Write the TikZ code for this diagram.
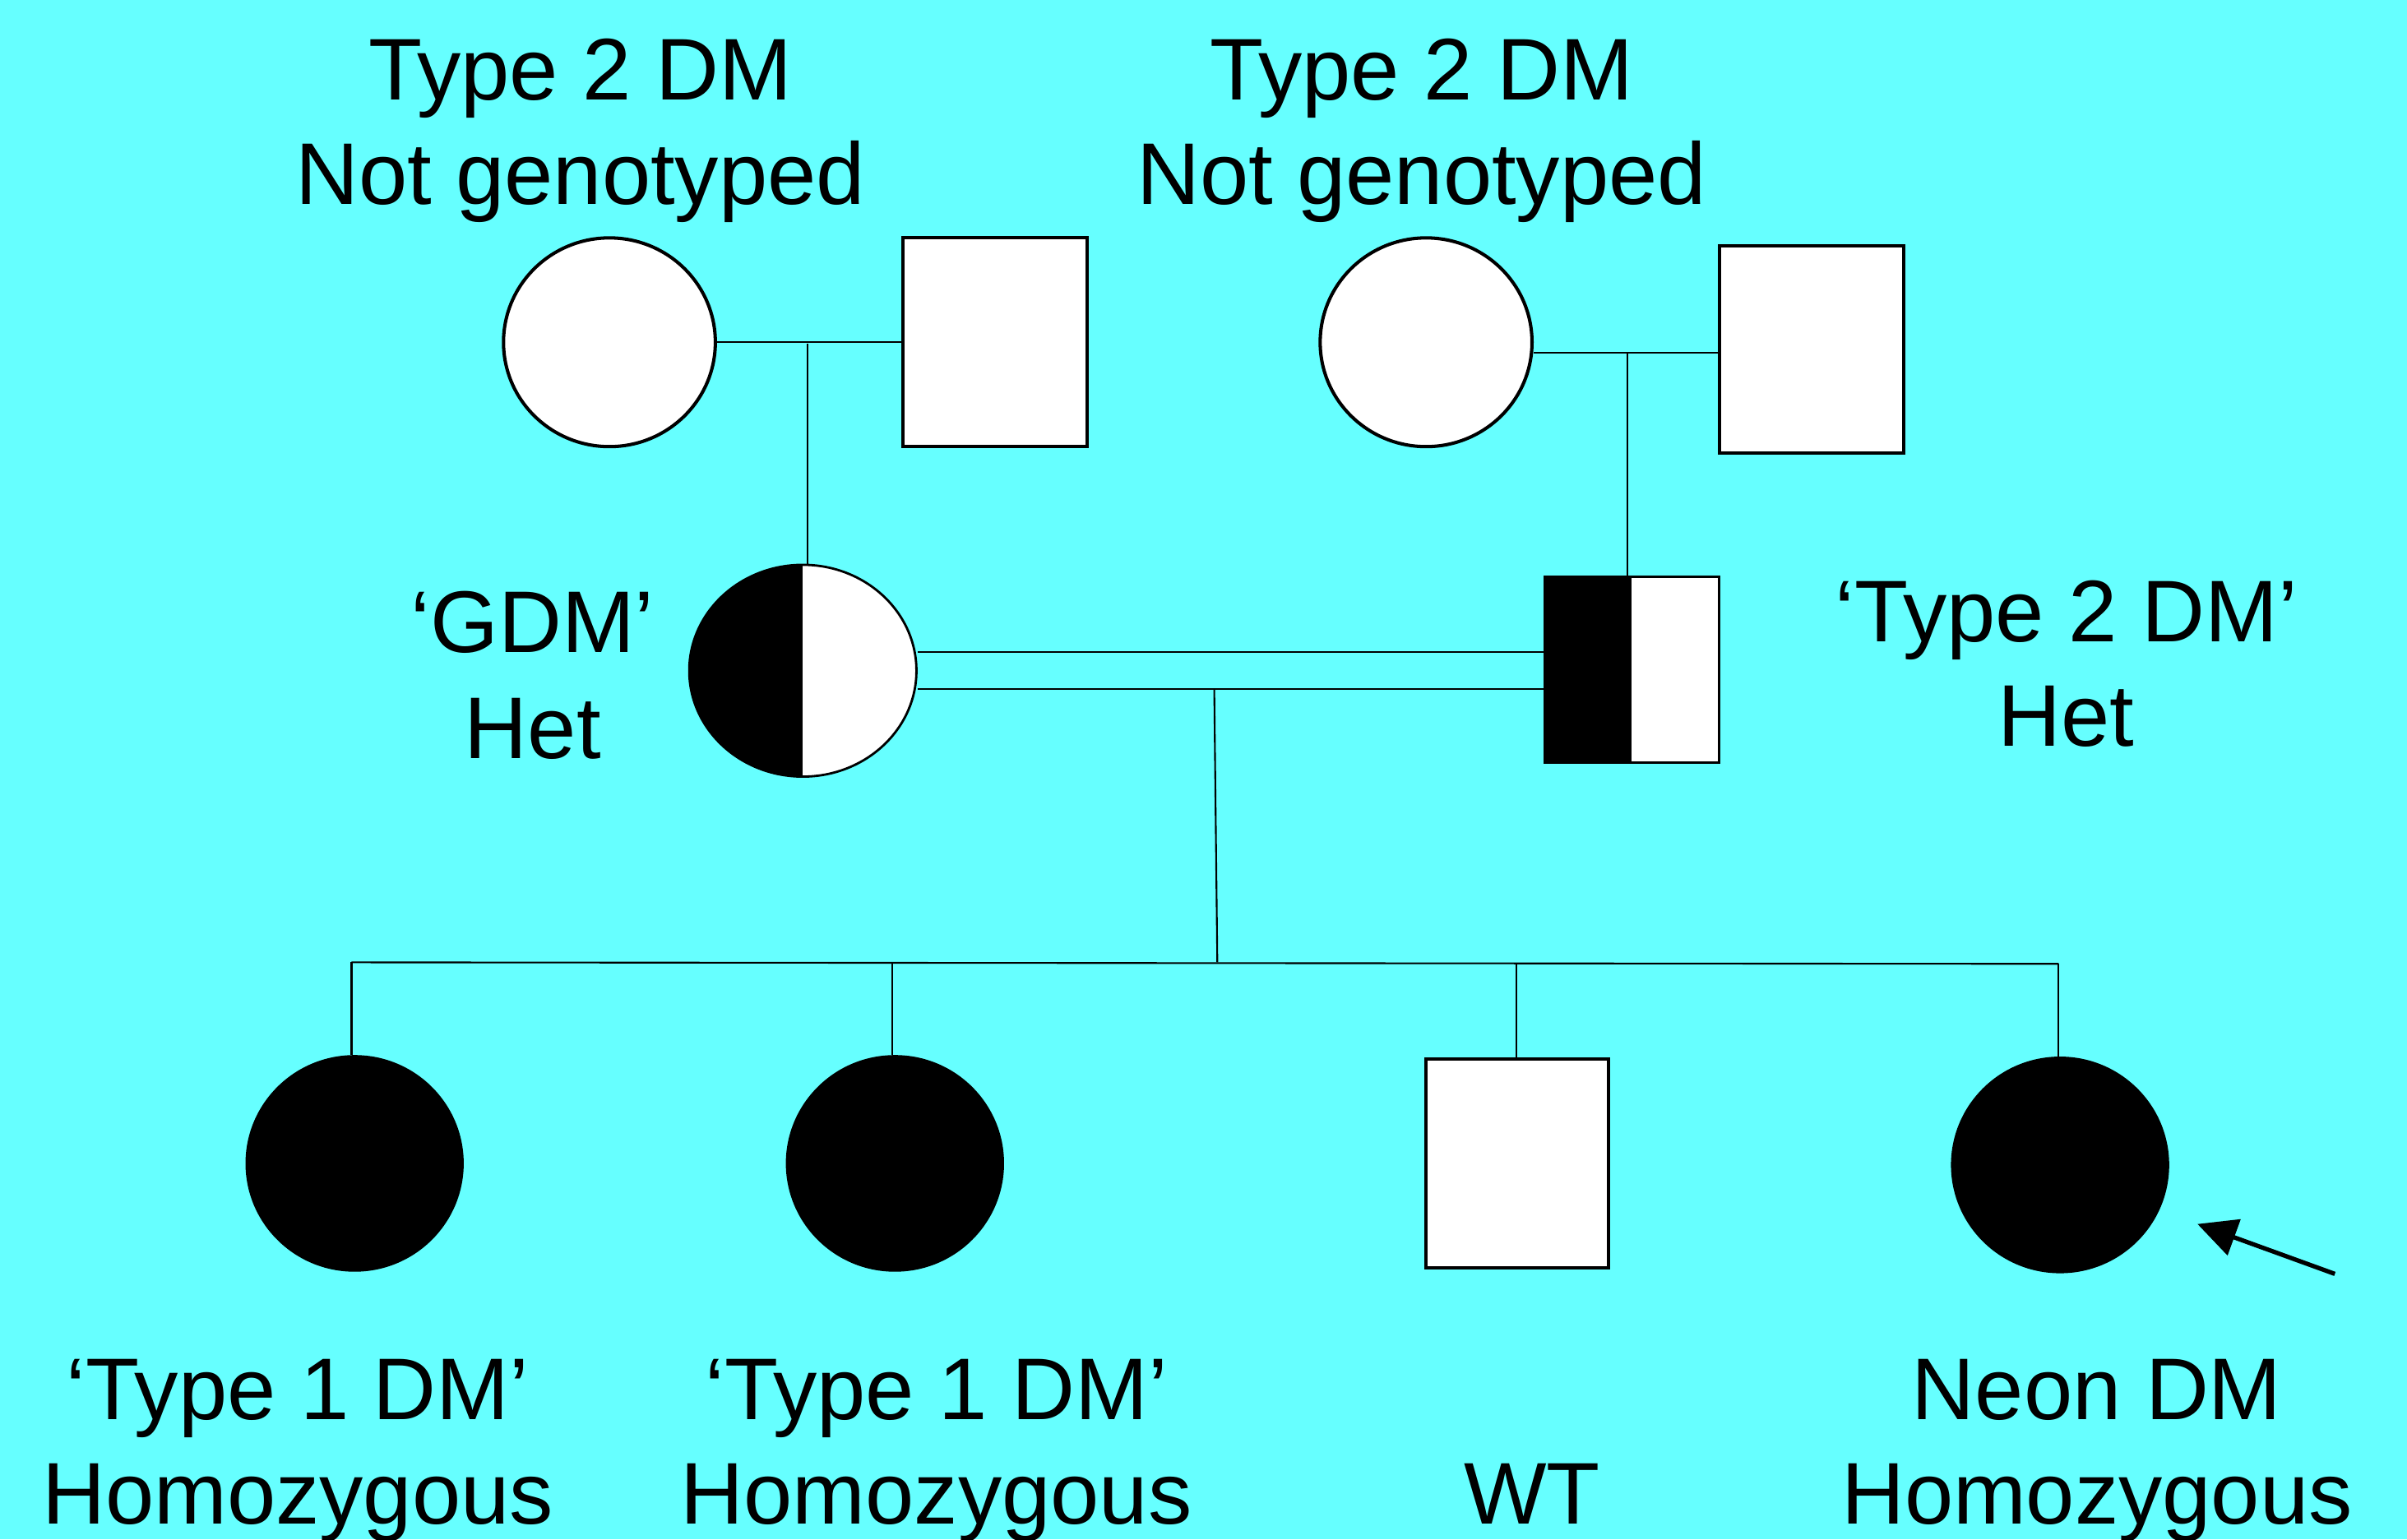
\documentclass[tikz,border=0pt]{standalone}
\usepackage{fontspec}
\setmainfont{Liberation Sans}
\usetikzlibrary{shapes.geometric,arrows.meta,calc}
\definecolor{bgcyan}{RGB}{102,255,255}
\newlength\unitpx
\setlength\unitpx{0.018667cm}
\tikzset{
  female/.style={ellipse,draw=black,fill=white,inner sep=0pt,line width=1.15pt,minimum width=138\unitpx,minimum height=136\unitpx},
  male/.style={rectangle,draw=black,fill=white,inner sep=0pt,line width=1.15pt,minimum width=120\unitpx,minimum height=136\unitpx},
  affected/.style={fill=black},
  halfleft/.style={line width=0.8pt,path picture={\fill[black] (path picture bounding box.south west) rectangle (path picture bounding box.north);}},
  link/.style={draw=black,line width=0.6pt},
  lbl/.style={anchor=base,inner sep=0pt,font=\fontsize{30.3pt}{36pt}\selectfont}
}
\begin{document}
\begin{tikzpicture}[x=\unitpx,y=-\unitpx]
\fill[bgcyan] (0,0) rectangle (1568,1003);
\useasboundingbox (0,0) rectangle (1568,1003);
% generation I
\node[female] (gm1) at (397,223) {};
\node[male] (gf1) at (648,223) {};
\node[female] (gm2) at (929,223) {};
\node[male,minimum height=135\unitpx] (gf2) at (1180,227.5) {};
% generation II
\node[female,halfleft,minimum width=148\unitpx,minimum height=138\unitpx] (mom) at (523,437) {};
\node[male,halfleft,minimum width=114\unitpx,minimum height=121\unitpx] (dad) at (1063,436.5) {};
% generation III
\node[female,affected,minimum width=140\unitpx,minimum height=139\unitpx] (c1) at (231,758) {};
\node[female,affected,minimum width=140\unitpx,minimum height=139\unitpx] (c2) at (583,758) {};
\node[male,minimum width=119\unitpx,minimum height=136\unitpx] (c3) at (988.5,758) {};
\node[female,affected,minimum width=140\unitpx,minimum height=139\unitpx] (c4) at (1342,759) {};
% connectors
\coordinate (u1) at (526,224);
\coordinate (u2) at (1060,230);
\draw[link] (gm1.east) -- (gf1.west);
\draw[link] (u1) -- (u1 |- mom.north);
\draw[link] (gm2.east |- u2) -- (gf2.west |- u2);
\draw[link] (u2) -- (u2 |- dad.north);
\coordinate (m1) at (0,425);
\coordinate (m2) at (0,449);
\draw[link] (mom.east |- m1) -- (dad.west |- m1);
\draw[link] (mom.east |- m2) -- (dad.west |- m2);
\coordinate (d0) at (791,449);
\coordinate (sib) at (793,627);
\draw[link] (d0) -- (sib);
\coordinate (sl) at (229,627);
\coordinate (sr) at (1341,628);
\draw[link] (sl) -- (sr);
\draw[link] (sl) -- (sl |- c1.north);
\coordinate (k2) at (581,627.5);
\coordinate (k3) at (988,627.8);
\draw[link] (k2) -- (k2 |- c2.north);
\draw[link] (k3) -- (k3 |- c3.north);
\draw[link] (sr) -- (sr |- c4.north);
% proband arrow
\coordinate (a0) at (1521,830);
\coordinate (a1) at (1431.5,797.5);
\draw[line width=1.5pt,-{Triangle[length=13.5pt,width=13pt]}] (a0) -- (a1);
% labels
\node[lbl] (t1a) at (378,65) {Type 2 DM};
\node[lbl] (t1b) at (378,133) {Not genotyped};
\node[lbl] (t2a) at (926,65) {Type 2 DM};
\node[lbl] (t2b) at (926,133) {Not genotyped};
\node[lbl] (t3a) at (347,425) {‘GDM’};
\node[lbl] (t3b) at (347,494) {Het};
\node[lbl] (t4a) at (1346,418) {‘Type 2 DM’};
\node[lbl] (t4b) at (1346,486) {Het};
\node[lbl] (t5a) at (194,925) {‘Type 1 DM’};
\node[lbl] (t5b) at (194,993) {Homozygous};
\node[lbl] (t6a) at (610,925) {‘Type 1 DM’};
\node[lbl] (t6b) at (610,993) {Homozygous};
\node[lbl] (t7) at (998,993) {WT};
\node[lbl] (t8a) at (1366,925) {Neon DM};
\node[lbl] (t8b) at (1366,993) {Homozygous};
\end{tikzpicture}
\end{document}
